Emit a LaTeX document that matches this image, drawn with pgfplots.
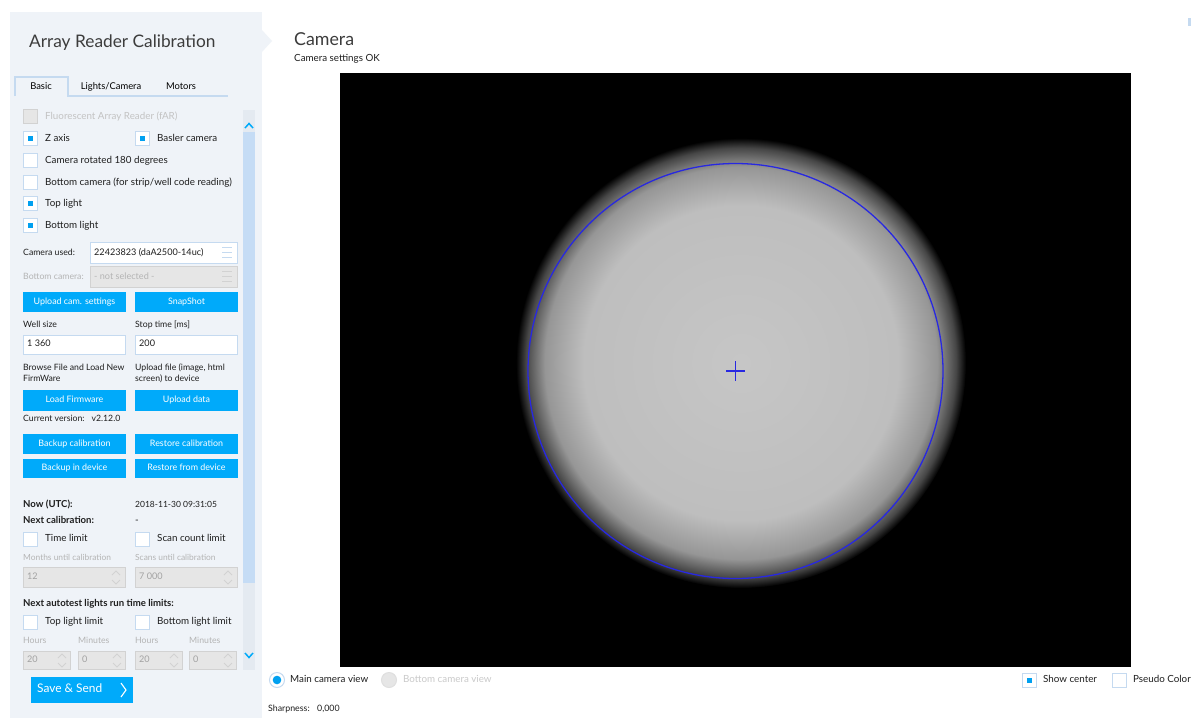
\documentclass[border=0pt]{standalone}
\usepackage{fontspec}
\setmainfont{Lato}
\usepackage{pgfplots}
\pgfplotsset{compat=1.18}
\definecolor{panel}{RGB}{239,243,248}
\definecolor{btn}{RGB}{0,170,250}
\definecolor{cbb}{RGB}{197,218,240}
\definecolor{cbf}{RGB}{0,160,240}
\definecolor{thumb}{RGB}{197,220,245}
\definecolor{track}{RGB}{228,234,241}
\definecolor{dis}{RGB}{230,230,230}
\definecolor{disb}{RGB}{210,210,210}
\definecolor{gtxt}{RGB}{180,180,180}
\definecolor{txt}{RGB}{30,30,30}
\definecolor{txtt}{RGB}{60,60,60}
\definecolor{ring}{RGB}{40,40,225}
\definecolor{c0}{RGB}{198,198,198}
\definecolor{c1}{RGB}{190,190,190}
\definecolor{c2}{RGB}{150,150,150}
\definecolor{c3}{RGB}{70,70,70}
\pgfdeclareradialshading{disk}{\pgfpoint{0bp}{0bp}}{color(0bp)=(c0); color(17.5bp)=(c1); color(21.8bp)=(c2); color(23.9bp)=(c3); color(25bp)=(black); color(50bp)=(black)}
\newcommand\fb{\fontsize{9.8}{12}\selectfont}
\newcommand\fl{\fontsize{8.7}{10.5}\selectfont}
\newcommand\fbt{\fontsize{8.9}{10.5}\selectfont}
\tikzset{
 t/.style={anchor=west,inner sep=0pt,text height=6.5pt,text depth=2.5pt,font=\fb,text=txt},
 tl/.style={t,font=\fl},
 tb/.style={t,font=\fb\bfseries},
 tg/.style={t,text=gtxt},
 ts/.style={t,text=gtxt,font=\fl},
}
\newcommand\btn[5]{\fill[btn] (#1,#2) rectangle (#3,#4);
 \node[anchor=center,inner sep=0pt,text height=6.5pt,text depth=2.5pt,text=white,font=\fbt] at ({(#1+#3)/2},{(#2+#4)/2}) {#5};}
\newcommand\cboff[2]{\draw[cbb,fill=white,line width=1pt] (#1+0.5,#2+0.5) rectangle (#1+14.5,#2+14.5);}
\newcommand\cbon[2]{\cboff{#1}{#2}\fill[cbf] (#1+5,#2+5) rectangle (#1+10,#2+10);}
\newcommand\field[4]{\draw[cbb,fill=white,line width=1pt] (#1,#2) rectangle (#3,#4);}
\newcommand\dfield[4]{\draw[disb,fill=dis,line width=1pt] (#1,#2) rectangle (#3,#4);}
\newcommand\spin[3]{\draw[disb,line width=0.8pt] (#1-4,#2+2) -- (#1,#2-2) -- (#1+4,#2+2);
 \draw[disb,line width=0.8pt] (#1-4,#3-2) -- (#1,#3+2) -- (#1+4,#3-2);}
\begin{document}
\begin{tikzpicture}
\begin{axis}[width=1191pt,height=718pt,scale only axis,xmin=0,xmax=1191,ymin=0,ymax=718,
 y dir=reverse,axis lines=none,ticks=none,clip=false]
% background
\fill[white] (0,0) rectangle (1191,718);
% left panel
\fill[panel] (10,12) rectangle (262,718);
\fill[panel] (262,30) -- (272,41) -- (262,52) -- cycle;
\node[anchor=base west,inner sep=0pt,font=\fontsize{17.3}{20}\selectfont,text=txtt] at (29,47) {Array Reader Calibration};
% tabs
\draw[cbb,line width=1.5pt] (15,96) -- (15,77) -- (68,77) -- (68,96) -- (228,96);
\node[anchor=center,inner sep=0pt,text height=6.5pt,text depth=2.5pt,font=\fontsize{9.4}{11}\selectfont] at (41,87) {Basic};
\node[anchor=center,inner sep=0pt,text height=6.5pt,text depth=2.5pt,font=\fontsize{9.4}{11}\selectfont] at (111,87) {Lights/Camera};
\node[anchor=center,inner sep=0pt,text height=6.5pt,text depth=2.5pt,font=\fontsize{9.4}{11}\selectfont] at (181,87) {Motors};
% scrollbar
\fill[track] (243,110) rectangle (255,670);
\fill[thumb] (243,132) rectangle (255,583);
\draw[btn,line width=1.5pt] (245,128) -- (249,123.5) -- (253,128);
\draw[btn,line width=1.5pt] (245,653) -- (249,657.5) -- (253,653);
% checkboxes
\draw[disb,fill=dis,line width=1pt] (23.5,109.5) rectangle (37.5,123.5);
\node[t,text=gtxt!80] at (45,117) {Fluorescent Array Reader (fAR)};
\cbon{23}{131}\node[t] at (45,139) {Z axis};
\cbon{135}{131}\node[t] at (157,139) {Basler camera};
\cboff{23}{153}\node[t] at (45,161) {Camera rotated 180 degrees};
\cboff{23}{175}\node[t] at (45,183) {Bottom camera (for strip/well code reading)};
\cbon{23}{196}\node[t] at (45,204) {Top light};
\cbon{23}{218}\node[t] at (45,226) {Bottom light};
% camera used
\node[tl] at (23,253) {Camera used:};
\field{90}{242.5}{237}{263}
\node[t,font=\fontsize{9.1}{11}\selectfont] at (94,253) {22423823 (daA2500-14uc)};
\draw[cbb,line width=1.3pt] (222,247.5) -- (232,247.5) (222,252.5) -- (232,252.5) (222,257.5) -- (232,257.5);
\node[ts] at (23,277) {Bottom camera:};
\dfield{90}{266.5}{237}{287}
\node[tg,font=\fontsize{9.1}{11}\selectfont] at (94,277) {- not selected -};
\draw[disb,line width=1.3pt] (222,271.5) -- (232,271.5) (222,276.5) -- (232,276.5) (222,281.5) -- (232,281.5);
% buttons
\btn{23}{292}{126}{312}{Upload cam. settings}
\btn{135}{292}{238}{312}{SnapShot}
\node[tl] at (23,325) {Well size};
\node[tl] at (135,325) {Stop time [ms]};
\field{23.5}{335}{125.5}{354}
\field{135.5}{335}{237.5}{354}
\node[t,font=\fontsize{9.1}{11}\selectfont] at (27,344.5) {1 360};
\node[t,font=\fontsize{9.1}{11}\selectfont] at (139,344.5) {200};
\node[tl] at (23,368) {Browse File and Load New};
\node[tl] at (23,379) {FirmWare};
\node[tl] at (135,368) {Upload file (image, html};
\node[tl] at (135,379) {screen) to device};
\btn{23}{390}{126}{411}{Load Firmware}
\btn{135}{390}{238}{411}{Upload data}
\node[tl] at (23,419) {Current version:\hspace{7pt}v2.12.0};
\btn{23}{434}{126}{454}{Backup calibration}
\btn{135}{434}{238}{454}{Restore calibration}
\btn{23}{459}{126}{478}{Backup in device}
\btn{135}{459}{238}{478}{Restore from device}
% calibration info
\node[tb,font=\fontsize{9.6}{12}\selectfont\bfseries] at (23,505) {Now (UTC):};
\node[tl,font=\fontsize{8.5}{10}\selectfont] at (135,505) {2018-11-30 09:31:05};
\node[tb,font=\fontsize{9.6}{12}\selectfont\bfseries] at (23,521) {Next calibration:};
\node[t] at (135,521) {-};
\cboff{23}{532}\node[t] at (45,539) {Time limit};
\cboff{135}{532}\node[t] at (157,539) {Scan count limit};
\node[ts,font=\fontsize{8.4}{10}\selectfont] at (23,558) {Months until calibration};
\node[ts,font=\fontsize{8.4}{10}\selectfont] at (135,558) {Scans until calibration};
\dfield{23.5}{567.5}{125.5}{587}
\dfield{135.5}{567.5}{237.5}{587}
\node[tg,text=gtxt!90!black,font=\fontsize{9.1}{11}\selectfont] at (27,577) {12};
\node[tg,text=gtxt!90!black,font=\fontsize{9.1}{11}\selectfont] at (139,577) {7 000};
\spin{116}{573}{582}
\spin{228}{573}{582}
\node[tb,font=\fontsize{9.6}{12}\selectfont\bfseries] at (23,604) {Next autotest lights run time limits:};
\cboff{23}{615}\node[t] at (45,622) {Top light limit};
\cboff{135}{615}\node[t] at (157,622) {Bottom light limit};
\node[ts] at (23,641) {Hours};
\node[ts] at (78,641) {Minutes};
\node[ts] at (135,641) {Hours};
\node[ts] at (189,641) {Minutes};
\dfield{23.5}{651.5}{70.5}{669.5}
\dfield{78.5}{651.5}{125.5}{669.5}
\dfield{135.5}{651.5}{182.5}{669.5}
\dfield{189.5}{651.5}{236.5}{669.5}
\node[tg,text=gtxt!90!black,font=\fontsize{9.1}{11}\selectfont] at (27,660.5) {20};
\node[tg,text=gtxt!90!black,font=\fontsize{9.1}{11}\selectfont] at (82,660.5) {0};
\node[tg,text=gtxt!90!black,font=\fontsize{9.1}{11}\selectfont] at (139,660.5) {20};
\node[tg,text=gtxt!90!black,font=\fontsize{9.1}{11}\selectfont] at (193,660.5) {0};
\spin{62}{656}{665}
\spin{117}{656}{665}
\spin{174}{656}{665}
\spin{228}{656}{665}
% save & send
\fill[btn] (31,677) rectangle (133,703);
\node[anchor=west,inner sep=0pt,text height=8pt,text depth=3pt,text=white,font=\fontsize{11.9}{14}\selectfont] at (37,690) {Save \& Send};
\draw[white,line width=1.1pt] (121,683) -- (126,690) -- (121,697);
% right side
\node[anchor=base west,inner sep=0pt,font=\fontsize{17.8}{21}\selectfont,text=txtt] at (294,45) {Camera};
\node[t] at (294,59) {Camera settings OK};
\fill[black] (340,73) rectangle (1131,667);
\shade[shading=disk] (741,363) circle [radius=225];
\draw[ring,line width=1.3pt] (735.5,371) circle [radius=207.5];
\addplot[ring,line width=1.3pt] coordinates {(726,371) (745,371)};
\addplot[ring,line width=1.3pt] coordinates {(735.5,361) (735.5,381)};
% bottom controls
\draw[cbb,fill=white,line width=1pt] (277,680) circle [radius=7.5];
\fill[cbf] (277,680) circle [radius=4.3];
\node[t] at (290,680.5) {Main camera view};
\draw[disb!70,fill=dis,line width=1pt] (389,680) circle [radius=7.5];
\node[tg,text=gtxt!70] at (403,680.5) {Bottom camera view};
\node[t,font=\fontsize{8.8}{10}\selectfont] at (268,709) {Sharpness:};
\node[t,font=\fontsize{8.8}{10}\selectfont] at (317,709) {0,000};
\cbon{1022}{673}\node[t] at (1043,680.5) {Show center};
\cboff{1112}{673}\node[t] at (1133,680.5) {Pseudo Color};
\fill[cbb] (1188,18) rectangle (1191,26);
\end{axis}
\end{tikzpicture}
\end{document}
